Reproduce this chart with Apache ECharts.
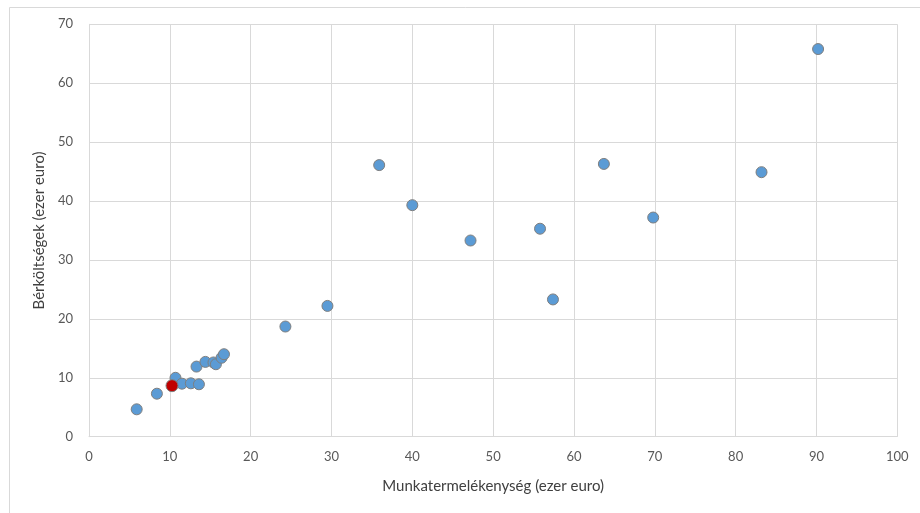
<!DOCTYPE html>
<html>
<head>
<meta charset="utf-8">
<script src="https://cdn.jsdelivr.net/npm/echarts@6/dist/echarts.min.js"></script>
<style>
html,body{margin:0;padding:0;background:#fff;}
#chart{width:920px;height:513px;}
</style>
</head>
<body>
<div id="chart"></div>
<script>
// adatok (ezer euro)
var termelekenyseg = [5.9, 8.4, 10.7, 11.5, 12.6, 13.6, 13.3, 14.4, 15.4, 15.7, 16.4, 16.7, 24.3, 29.5, 35.9, 40.0, 47.2, 55.8, 57.4, 63.7, 69.8, 83.2, 90.2];
var berkoltseg    = [4.65, 7.3, 10.0, 9.0, 9.06, 8.9, 11.9, 12.7, 12.6, 12.3, 13.4, 14.0, 18.7, 22.2, 46.1, 39.3, 33.3, 35.3, 23.3, 46.3, 37.2, 44.9, 65.8];
// kiemelt pont
var kiemelt = [10.27, 8.66];

var pontok = termelekenyseg.map(function (x, i) { return [x, berkoltseg[i]]; });

var myChart = echarts.init(document.getElementById('chart'));
var fnt = 'Lato, "Open Sans", sans-serif';

myChart.setOption({
    animation: false,
    backgroundColor: '#fff',
    graphic: [{
        type: 'rect',
        left: 7, top: 5,
        shape: { width: 930, height: 520 },
        style: { fill: 'none', stroke: '#d9d9d9', lineWidth: 1 },
        silent: true
    }],
    grid: { left: 89, top: 24.3, right: 22.7, bottom: 76.3 },
    xAxis: {
        type: 'value',
        min: 0, max: 100, interval: 10,
        name: 'Munkatermelékenység (ezer euro)',
        nameLocation: 'middle',
        nameGap: 42,
        nameTextStyle: { color: '#404040', fontSize: 15, fontFamily: fnt },
        axisLine: { show: true, lineStyle: { color: '#d9d9d9' } },
        axisTick: { show: false },
        axisLabel: { color: '#595959', fontSize: 13, fontFamily: fnt, margin: 14 },
        splitLine: { show: true, lineStyle: { color: '#d9d9d9' } }
    },
    yAxis: {
        type: 'value',
        min: 0, max: 70, interval: 10,
        name: 'Bérköltségek (ezer euro)',
        nameLocation: 'middle',
        nameGap: 37,
        nameTextStyle: { color: '#404040', fontSize: 15, fontFamily: fnt },
        axisLine: { show: true, lineStyle: { color: '#d9d9d9' } },
        axisTick: { show: false },
        axisLabel: { color: '#595959', fontSize: 13, fontFamily: fnt, margin: 16 },
        splitLine: { show: true, lineStyle: { color: '#d9d9d9' } }
    },
    series: [
        {
            type: 'scatter',
            data: pontok,
            symbolSize: 11,
            itemStyle: { color: '#5B9BD5', opacity: 1, borderColor: '#7f7f7f', borderWidth: 1 }
        },
        {
            type: 'scatter',
            data: [kiemelt],
            symbolSize: 12,
            itemStyle: { color: '#C00000', opacity: 1, borderColor: '#7f7f7f', borderWidth: 1 }
        }
    ]
});
</script>
</body>
</html>
